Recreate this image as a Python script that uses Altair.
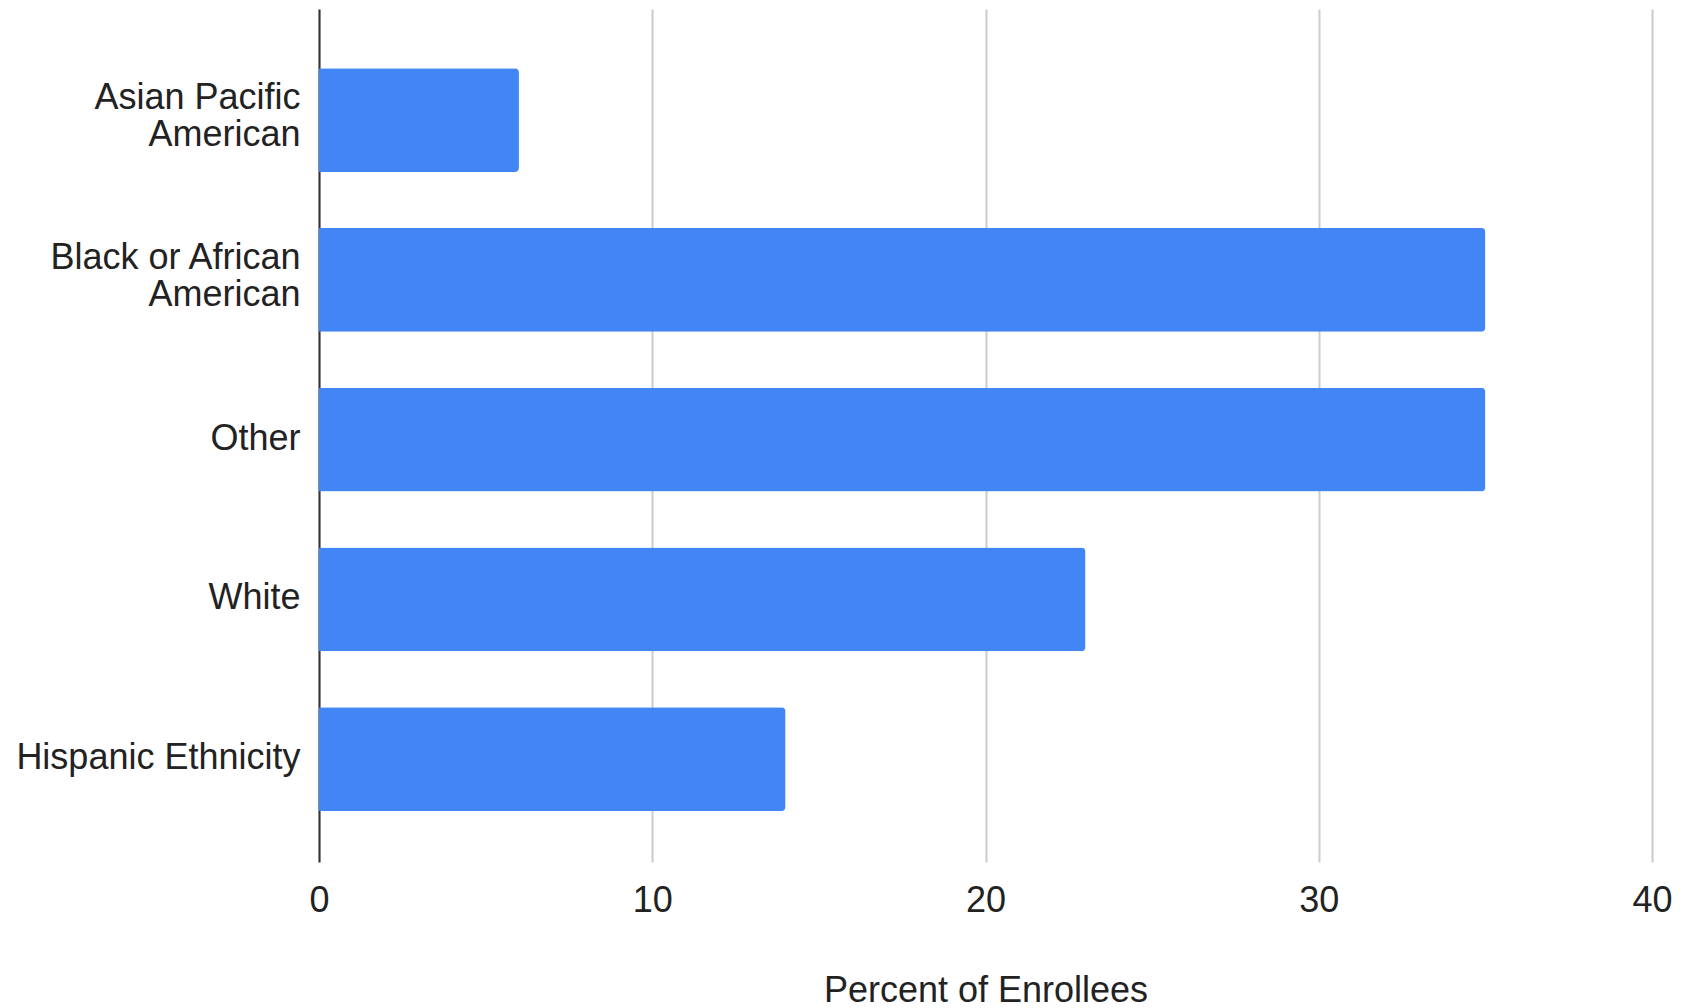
import altair as alt
import pandas as pd

categories = ["Asian Pacific\nAmerican", "Black or African\nAmerican", "Other", "White", "Hispanic Ethnicity"]
values = [6, 35, 35, 23, 14]
x_ticks = [0, 10, 20, 30, 40]

df = pd.DataFrame({"group": categories, "pct": values})

FONT = "Liberation Sans"
FS = 36

chart = alt.Chart(df).mark_bar(color="#4285F4", cornerRadiusEnd=4).encode(
    x=alt.X(
        "pct:Q",
        scale=alt.Scale(domain=[0, 40], nice=False),
        axis=alt.Axis(
            values=x_ticks,
            title="Percent of Enrollees",
            ticks=False,
            domain=False,
            grid=True,
            gridColor="#cccccc",
            gridWidth=2,
            labelFont=FONT,
            labelFontSize=FS,
            labelColor="#222222",
            labelPadding=21,
            labelFlush=False,
            titleFont=FONT,
            titleFontSize=FS,
            titleFontWeight="normal",
            titleColor="#222222",
            titleBaseline="middle",
            titleY=128,
        ),
    ),
    y=alt.Y(
        "group:N",
        sort=categories,
        scale=alt.Scale(paddingInner=0.35, paddingOuter=0.345, align=0.537),
        axis=alt.Axis(
            title=None,
            ticks=False,
            domain=True,
            domainColor="#333333",
            domainWidth=2,
            labelExpr="split(datum.label, '\\n')",
            labelFont=FONT,
            labelFontSize=FS,
            labelLineHeight=37,
            labelBaseline="middle",
            labelOffset={
                "condition": {"test": "indexof(datum.label, '\\n') >= 0", "value": -22},
                "value": -1,
            },
            labelColor="#222222",
            labelPadding=19,
            labelLimit=400,
        ),
    ),
).properties(
    width=1333,
    height=853,
    autosize=alt.AutoSizeParams(type="none"),
    padding={"left": 319, "top": 9, "right": 38, "bottom": 146},
).configure(background="white").configure_view(stroke=None, strokeWidth=0)

chart.save("out.html", embed_options={"renderer": "svg", "actions": False})
